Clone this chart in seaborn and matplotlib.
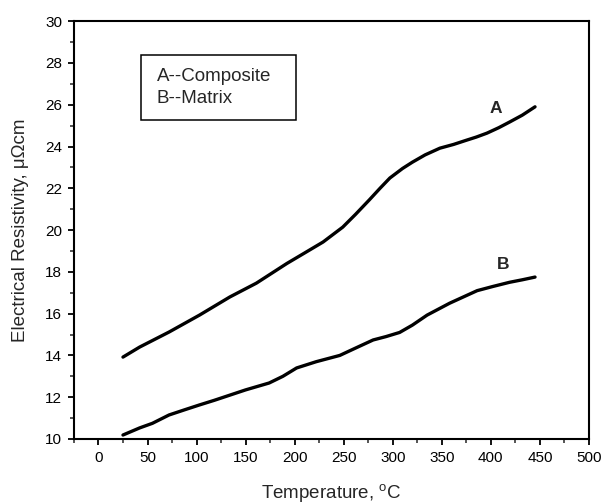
import matplotlib
matplotlib.use("Agg")
import matplotlib.pyplot as plt
from matplotlib.ticker import MultipleLocator
from matplotlib.patches import Rectangle
import seaborn as sns
import pandas as pd

# Resistivity vs temperature for the composite (A) and the matrix (B)
temp_a = [25, 42, 72, 103, 134, 161, 192, 210, 229, 249, 262, 276, 287, 297, 310, 320,
          333, 348, 362, 375, 385, 396, 408, 419, 432, 445]
res_a = [13.92, 14.40, 15.12, 15.93, 16.80, 17.46, 18.40, 18.90, 19.43, 20.14, 20.75,
         21.44, 22.00, 22.49, 22.95, 23.25, 23.60, 23.92, 24.10, 24.30, 24.45, 24.64,
         24.90, 25.17, 25.50, 25.90]

temp_b = [25, 42, 55, 72, 88, 103, 118, 134, 150, 174, 188, 202, 222, 234, 246, 262,
          280, 293, 307, 320, 335, 358, 372, 386, 402, 419, 432, 445]
res_b = [10.19, 10.53, 10.75, 11.15, 11.40, 11.63, 11.85, 12.10, 12.35, 12.68, 13.00,
         13.40, 13.70, 13.85, 14.00, 14.35, 14.74, 14.90, 15.10, 15.45, 15.93, 16.50,
         16.80, 17.10, 17.30, 17.50, 17.62, 17.75]

curve_names = ["A", "B"]
legend_lines = ["A--Composite", "B--Matrix"]
x_ticks = [0, 50, 100, 150, 200, 250, 300, 350, 400, 450, 500]
y_ticks = [10, 12, 14, 16, 18, 20, 22, 24, 26, 28, 30]

df = pd.concat([
    pd.DataFrame({"T": temp_a, "R": res_a, "curve": curve_names[0]}),
    pd.DataFrame({"T": temp_b, "R": res_b, "curve": curve_names[1]}),
])

sns.set_style("ticks")
plt.rcParams["font.family"] = ["Liberation Sans", "DejaVu Sans"]
plt.rcParams["mathtext.fontset"] = "custom"
plt.rcParams["mathtext.rm"] = "Liberation Sans"

fig = plt.figure(figsize=(6.01, 5.04), dpi=100)
ax = fig.add_axes([0.123, 0.129, 0.857, 0.829])

sns.lineplot(data=df, x="T", y="R", units="curve", estimator=None, sort=False,
             color="black", lw=2.4, ax=ax, legend=False)

ax.set_xlim(-25, 500)
ax.set_ylim(10, 30)
ax.set_xticks(x_ticks)
ax.set_yticks(y_ticks)
ax.xaxis.set_minor_locator(MultipleLocator(25))
ax.yaxis.set_minor_locator(MultipleLocator(1))
ax.tick_params(axis="both", which="major", direction="out", length=4.5, width=1.3,
               labelsize=11, colors="black", pad=4)
ax.tick_params(axis="both", which="minor", direction="out", length=2.8, width=1.1)
for s in ax.spines.values():
    s.set_linewidth(1.5)
    s.set_color("black")

ax.set_xlabel("Temperature, $^\\mathrm{o}$C", fontsize=13.5, va="center")
ax.xaxis.set_label_coords(0.5, -0.131)
ax.set_ylabel("Electrical Resistivity, \u03bc\u03a9cm", fontsize=13.5, va="center")
ax.yaxis.set_label_coords(-0.104, 0.5)

# curve labels
ax.text(405, 25.84, curve_names[0], fontsize=12.5, fontweight="bold", ha="center", va="center")
ax.text(412, 18.33, curve_names[1], fontsize=12.5, fontweight="bold", ha="center", va="center")

# boxed legend
ax.add_patch(Rectangle((0.130, 0.763), 0.301, 0.156, transform=ax.transAxes,
                       fc="white", ec="black", lw=1.1, zorder=3))
ax.text(0.161, 0.868, legend_lines[0], transform=ax.transAxes, fontsize=13.5,
        va="center", ha="left", zorder=4)
ax.text(0.161, 0.816, legend_lines[1], transform=ax.transAxes, fontsize=13.5,
        va="center", ha="left", zorder=4)

fig.savefig("out.png", dpi=100)
